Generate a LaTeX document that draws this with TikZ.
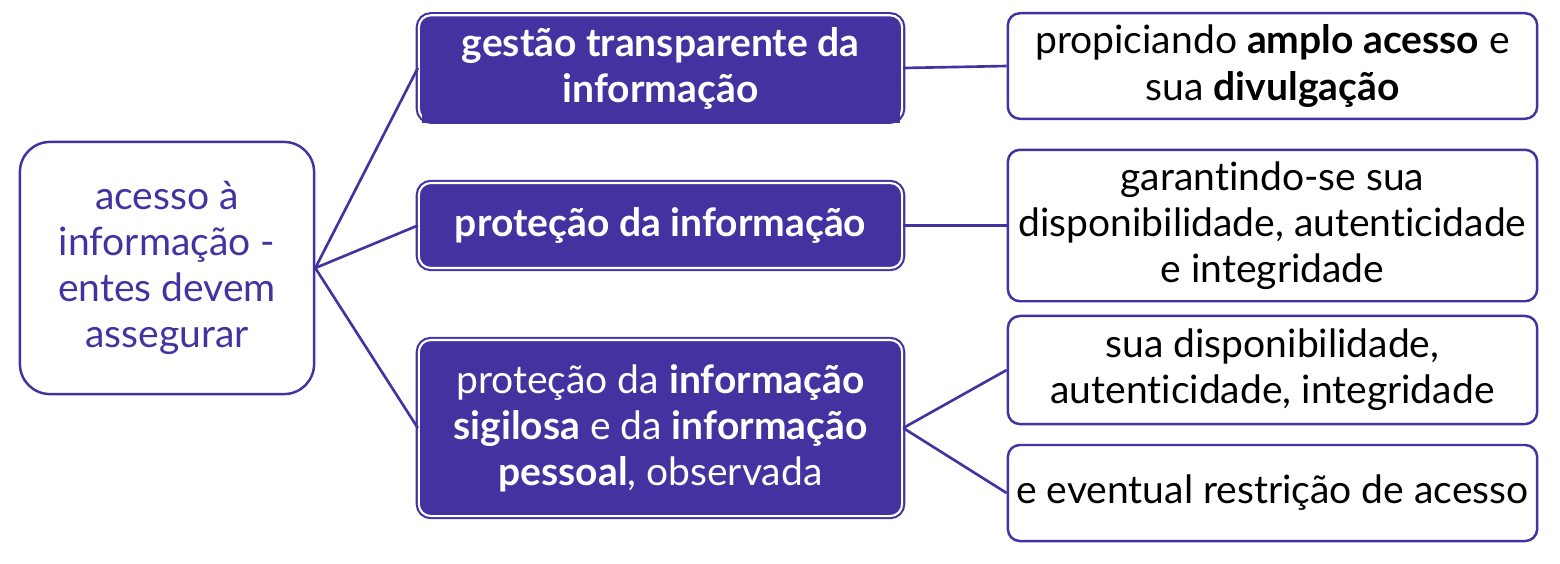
\documentclass[tikz,border=0pt]{standalone}
\usepackage{fontspec}
\setmainfont{Lato}[Ligatures=NoCommon]
\definecolor{pp}{RGB}{67,51,161}
\begin{document}
\begin{tikzpicture}[x=0.01cm, y=-0.01cm,
        font=\fontsize{11.1}{13.1}\selectfont,
        L/.style={draw=pp, line width=0.7pt, rounded corners=0.3cm, text=pp, align=center, minimum width=2.94cm, minimum height=2.52cm},
        P/.style={fill=pp, draw=white, line width=0.6pt, preaction={draw=pp, line width=1.8pt}, rounded corners=0.12cm, text=white, align=center, minimum width=4.83cm},
        R/.style={draw=pp, line width=0.7pt, rounded corners=0.12cm, align=center, inner xsep=1pt, minimum width=5.29cm},
        E/.style={draw=pp, line width=0.75pt}
      ]
      \useasboundingbox (0,0) rectangle (1560,563);
      \node [L] (acc) at (167,268) {acesso à\\ informação -\\ entes devem\\ assegurar};
      \node [P, minimum height=1.00cm, font=\fontsize{11.1}{13.1}\selectfont\bfseries] (gest) at (660.5,68) {gestão transparente da\\ informação};
      \fill [pp] (422,113) rectangle (900,123);
      \node [P, minimum height=0.85cm] (prot) at (660.5,225.5) {\textbf{proteção da informação}};
      \node [P, minimum height=1.76cm] (sig) at (660.5,428) {proteção da \textbf{informação}\\ \textbf{sigilosa} e da \textbf{informação}\\ \textbf{pessoal}, observada};
      \node [R, minimum height=0.96cm] (ampl) at (1272.5,66) {propiciando \textbf{amplo acesso} e\\ sua \textbf{divulgação}};
      \node [R, minimum height=1.37cm] (gar) at (1272.5,225.5) {garantindo-se sua\\ disponibilidade, autenticidade\\ e integridade};
      \node [R, minimum height=1.08cm] (disp) at (1272.5,370) {sua disponibilidade,\\ autenticidade, integridade};
      \node [R, minimum height=0.96cm] (rest) at (1272.5,493) {e eventual restrição de acesso};
      \draw [E] (acc.east) -- (gest.west);
      \draw [E] (acc.east) -- (prot.west);
      \draw [E] (acc.east) -- (sig.west);
      \draw [E] (gest.east) -- (ampl.west);
      \draw [E] (prot.east) -- (gar.west);
      \draw [E] (sig.east) -- (disp.west);
      \draw [E] (sig.east) -- (rest.west);
    \end{tikzpicture}
\end{document}
